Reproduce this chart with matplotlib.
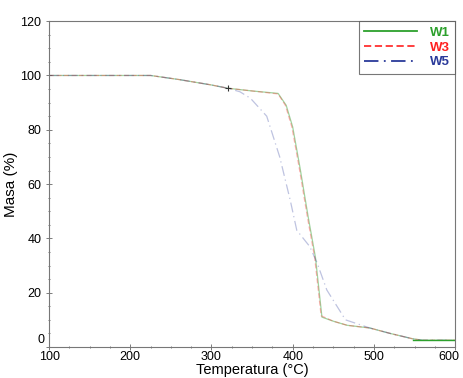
import matplotlib
matplotlib.use('Agg')
from matplotlib import pyplot as plt
from matplotlib import transforms
from matplotlib.ticker import MultipleLocator, FuncFormatter

plt.rcParams['font.family'] = ['Liberation Sans', 'DejaVu Sans']

# W1 / W3 (almost identical curves)
temp_w1 = [100, 150, 225, 260, 300, 320, 350, 382, 392, 400, 409, 419, 428, 436, 450, 467, 495, 520, 548, 560, 600]
mass_w1 = [100, 100, 100, 98.5, 96.5, 95.3, 94.3, 93.4, 89, 81, 66, 48, 33, 11, 9.5, 8, 7, 5, 3, 2.5, 2.5]

temp_w3 = [100, 150, 225, 260, 300, 320, 350, 382, 391, 399, 408, 418, 427, 435, 450, 467, 495, 520, 548, 560, 600]
mass_w3 = [100, 100, 100, 98.5, 96.5, 95.3, 94.3, 93.2, 89, 81, 66, 48, 33, 11.5, 9.5, 8, 7, 5, 3, 2.5, 2.5]

# W5
temp_w5 = [100, 150, 225, 260, 300, 320, 335, 348, 368, 384, 397, 405, 421, 430, 442, 465, 495, 520, 548, 560, 600]
mass_w5 = [100, 100, 100, 98.5, 96.5, 95.3, 94, 91.6, 85, 70, 54, 43, 37, 31, 21, 10, 7, 5, 3, 2.5, 2.5]

fig = plt.figure(figsize=(4.63, 3.78), dpi=100)
ax = fig.add_axes([0.106, 0.082, 0.877, 0.862])

ax.plot(temp_w1, mass_w1, color='#2ca02c', lw=0.9, alpha=0.45, label='W1')
ax.plot(temp_w3, mass_w3, color='#ff3030', lw=0.9, alpha=0.35, ls=(0, (4, 2)), label='W3')
ax.plot(temp_w5, mass_w5, color='#2a3a9a', lw=0.9, alpha=0.3, ls=(0, (8, 3, 1, 3)), label='W5')
ax.plot([320], [95.3], marker='+', color='#333333', ms=5, mew=0.8)
ax.plot([548, 600], [2.5, 2.5], color='#2ca02c', lw=1.0)

ax.set_xlim(100, 600)
ax.set_ylim(0, 120)
ax.xaxis.set_major_locator(MultipleLocator(100))
ax.xaxis.set_minor_locator(MultipleLocator(25))
ax.yaxis.set_major_locator(MultipleLocator(20))
ax.yaxis.set_minor_locator(MultipleLocator(5))
# corner labels (600 and 0) are placed by hand below
ax.xaxis.set_major_formatter(FuncFormatter(lambda v, p: '' if v >= 600 else f'{v:.0f}'))
ax.yaxis.set_major_formatter(FuncFormatter(lambda v, p: '' if v <= 0 else f'{v:.0f}'))
ax.tick_params(which='both', direction='inout', colors='#666666', labelcolor='black', labelsize=9, width=0.6)
ax.tick_params(which='major', length=4)
ax.tick_params(which='minor', length=2)
ax.tick_params(axis='x', pad=1)
for s in ax.spines.values():
    s.set_color('#777777')
    s.set_linewidth(0.8)

xtr = transforms.offset_copy(ax.get_xaxis_transform(), fig=fig, x=3, y=-3, units='points')
ax.text(600, 0, '600', transform=xtr, ha='right', va='top', fontsize=9)
ytr = transforms.offset_copy(ax.get_yaxis_transform(), fig=fig, x=-3.5, y=1, units='points')
ax.text(0, 0, '0', transform=ytr, ha='right', va='bottom', fontsize=9)

ax.set_xlabel('Temperatura (°C)', fontsize=10.5, labelpad=0)
ax.set_ylabel('Masa (%)', fontsize=11, labelpad=2)

leg = ax.legend(loc='upper right', fontsize=9.5, frameon=True, fancybox=False,
                markerfirst=True, handlelength=4, borderaxespad=0,
                borderpad=0.4, labelspacing=0.2, handletextpad=1.0)
leg.get_frame().set_edgecolor('#555555')
leg.get_frame().set_linewidth(0.8)
for h in leg.legend_handles:
    h.set_alpha(1.0)
    h.set_linewidth(1.3)
for t, c in zip(leg.get_texts(), ['#2ca02c', '#ff2020', '#2a3a9a']):
    t.set_color(c)
    t.set_fontweight('bold')

plt.savefig('out.png', dpi=100)
